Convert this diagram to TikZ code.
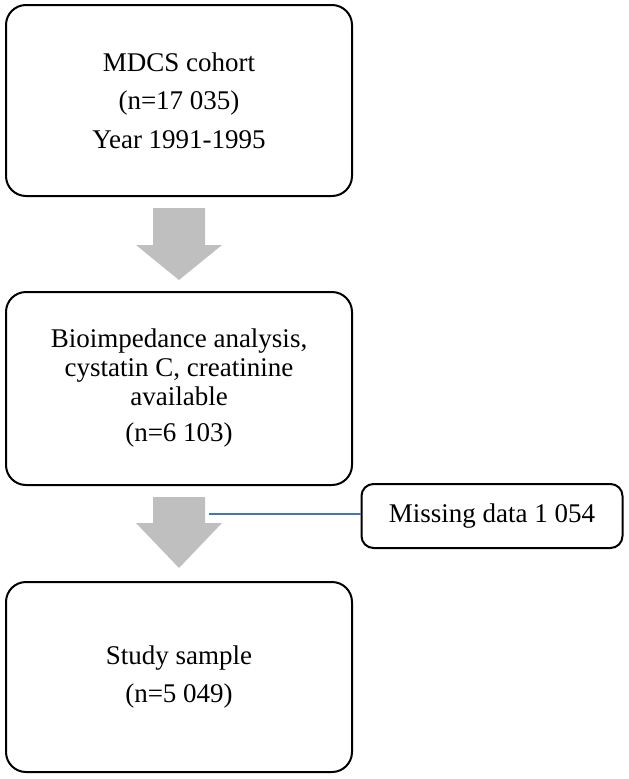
\documentclass[tikz,border=0pt]{standalone}
\usepackage{fontspec}
\setmainfont{Liberation Serif}
\definecolor{arrowgray}{RGB}{191,191,191}
\definecolor{linkblue}{RGB}{68,114,196}
\tikzset{
  bigbox/.style={draw=black, line width=2pt, rounded corners=20pt, minimum width=346pt, align=center, inner sep=0pt},
  smallbox/.style={draw=black, line width=2pt, rounded corners=12pt, minimum width=261pt, minimum height=64pt, align=center, inner sep=0pt},
  blockarrow/.style={fill=arrowgray, draw=none},
  link/.style={draw=linkblue, line width=1.2pt}
}
\begin{document}
\begin{tikzpicture}[x=1pt,y=-1pt]
\useasboundingbox (0,0) rectangle (629,779);
\node[bigbox, minimum height=191pt, font=\fontsize{27pt}{38.5pt}\selectfont] (cohort) at (179,100.5)
  {MDCS cohort\\(n=17 035)\\Year 1991-1995};
\node[bigbox, minimum height=193pt, font=\fontsize{27pt}{29pt}\selectfont] (bia) at (179,388.5)
  {Bioimpedance analysis,\\cystatin C, creatinine\\available\\[7pt](n=6 103)};
\node[smallbox, font=\fontsize{27pt}{32pt}\selectfont] (missing) at (492,516)
  {Missing data 1 054};
\node[bigbox, minimum height=190pt, font=\fontsize{27pt}{38pt}\selectfont] (study) at (179,677)
  {Study sample\\(n=5 049)};
% block arrows
\path[blockarrow] (153,208) -- (205,208) -- (205,245) -- (222,245) -- (179,280) -- (136,245) -- (153,245) -- cycle;
\path[blockarrow] (153,497) -- (205,497) -- (205,523) -- (222,523) -- (179,568) -- (136,523) -- (153,523) -- cycle;
\coordinate (shaft) at (209,514);
\draw[link] (shaft) -- (missing.west |- shaft);
\end{tikzpicture}
\end{document}
